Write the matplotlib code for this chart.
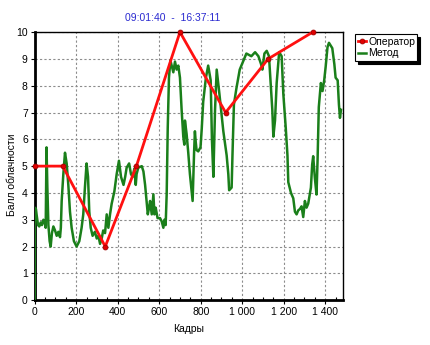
import matplotlib
matplotlib.use('Agg')
import matplotlib.pyplot as plt
from matplotlib.ticker import FuncFormatter, MultipleLocator

plt.rcParams['font.family'] = ['Liberation Sans', 'DejaVu Sans']

# Оператор: ручные оценки балла облачности
op_frames = [0, 135, 340, 490, 700, 920, 1125, 1340]
op_values = [5, 5, 2, 5, 10, 7, 9, 10]

# Метод: автоматическая оценка по кадрам
met_frames = [0, 1, 6, 9, 16, 22, 29, 35, 42, 48, 53, 57, 61, 66, 72, 77, 83, 90, 98,
              106, 114, 122, 126, 130, 138, 146, 154, 162, 170, 178, 189, 202, 215,
              226, 234, 242, 250, 257, 263, 270, 279, 290, 299, 307, 315, 323, 330,
              339, 347, 355, 363, 371, 384, 395, 406, 416, 428, 436, 443, 455, 464,
              472, 480, 487, 491, 499, 516, 524, 532, 540, 545, 551, 556, 564, 572,
              577, 583, 592, 604, 612, 620, 625, 631, 636, 641, 647, 654, 660, 668,
              676, 684, 692, 700, 708, 716, 721, 724, 732, 740, 748, 761, 768, 772,
              776, 780, 788, 799, 805, 812, 825, 836, 848, 854, 861, 869, 877, 890,
              901, 909, 925, 933, 937, 949, 953, 960, 972, 988, 1004, 1020, 1044,
              1062, 1078, 1091, 1097, 1107, 1118, 1129, 1137, 1145, 1150, 1158, 1166,
              1178, 1190, 1198, 1210, 1218, 1222, 1235, 1246, 1254, 1262, 1270, 1278,
              1286, 1294, 1302, 1310, 1318, 1331, 1337, 1342, 1350, 1358, 1363, 1369,
              1379, 1387, 1395, 1402, 1411, 1418, 1434, 1444, 1450, 1460, 1466, 1471,
              1476]
met_values = [0, 3.45, 3.4, 3.2, 2.8, 2.75, 2.9, 2.8, 3.0, 2.9, 2.7, 5.7, 4.2, 2.8, 2.2,
              2.0, 2.5, 2.75, 2.6, 2.4, 2.55, 2.35, 2.7, 3.7, 4.7, 5.5, 5.1, 4.3, 3.3,
              2.7, 2.2, 2.0, 2.2, 2.7, 3.2, 4.2, 5.1, 4.6, 3.3, 2.7, 2.4, 2.55, 2.3,
              2.4, 2.1, 2.3, 2.6, 2.5, 3.2, 2.7, 3.2, 3.6, 4.06, 4.7, 5.2, 4.6, 4.3,
              4.6, 4.94, 5.1, 4.7, 4.6, 4.9, 4.3, 4.7, 4.94, 5.0, 4.8, 4.3, 3.6, 3.2,
              3.45, 3.7, 3.2, 3.95, 3.2, 3.45, 3.06, 3.06, 2.94, 2.7, 3.0, 2.8, 3.95,
              6.4, 8.3, 8.94, 8.75, 8.5, 8.9, 8.6, 8.75, 8.3, 7.1, 6.1, 5.8, 6.7, 6.2,
              5.5, 4.7, 3.7, 5.5, 6.3, 5.9, 5.6, 5.55, 5.7, 6.4, 7.4, 8.3, 8.75, 8.2,
              6.0, 4.6, 7.1, 8.6, 7.7, 6.9, 6.3, 5.4, 4.7, 4.1, 4.2, 5.4, 7.3, 7.9,
              8.6, 8.9, 9.2, 9.1, 9.25, 9.1, 8.8, 8.6, 9.2, 9.3, 9.1, 8.07, 7.1, 6.1,
              6.7, 8.1, 9.25, 9.1, 7.7, 6.4, 5.4, 4.4, 4.0, 3.8, 3.3, 3.2, 3.35, 3.4,
              3.5, 3.1, 3.7, 3.45, 3.6, 4.2, 5.05, 5.37, 4.56, 3.94, 5.2, 7.2, 8.1,
              7.8, 8.2, 8.7, 9.44, 9.6, 9.4, 8.8, 8.3, 8.2, 7.3, 6.8, 7.1]

title_text = '09:01:40  -  16:37:11'

fig = plt.figure(figsize=(4.31, 3.45), dpi=100)
ax = fig.add_axes([0.0805, 0.130, 0.7155, 0.777])

ax.plot(met_frames, met_values, color='#1a7f1a', linewidth=1.8, label='Метод', zorder=3)
ax.plot(op_frames, op_values, color='#ff1010', linewidth=2, marker='o', markersize=3.5,
        markerfacecolor='#e00000', markeredgecolor='#a00000', markeredgewidth=0.6,
        label='Оператор', zorder=4, clip_on=False)

ax.set_xlim(0, 1486)
ax.set_ylim(0, 10)
ax.xaxis.set_major_locator(MultipleLocator(200))
ax.xaxis.set_minor_locator(MultipleLocator(50))
ax.yaxis.set_major_locator(MultipleLocator(1))
ax.xaxis.set_major_formatter(FuncFormatter(lambda v, p: f'{int(v):,}'.replace(',', ' ')))
ax.tick_params(axis='both', which='major', labelsize=7.5, length=3, width=0.8, pad=2)
ax.tick_params(axis='x', which='minor', direction='in', length=2, width=0.8)

ax.grid(True, which='major', color='#8c8c8c', linestyle=(0, (2, 2)), linewidth=0.8)
for side in ('left', 'bottom'):
    ax.spines[side].set_linewidth(2)
for side in ('top', 'right'):
    ax.spines[side].set_linewidth(1)

ax.set_xlabel('Кадры', fontsize=7.5, labelpad=5)
fig.text(12 / 431, 1 - 175 / 345, 'Балл облачности', rotation=90, fontsize=7.5,
         ha='center', va='center')
fig.text(173 / 431, 1 - 18 / 345, title_text, color='#2a2ad0', fontsize=7.5,
         ha='center', va='center')

handles, labels = ax.get_legend_handles_labels()
leg = fig.legend(handles[::-1], labels[::-1], loc='upper left',
                 bbox_to_anchor=(355 / 431, 1 - 34 / 345), fontsize=7.5,
                 handlelength=0.8, handletextpad=0.2, borderpad=0.25, labelspacing=0.15,
                 borderaxespad=0, fancybox=False, edgecolor='black', framealpha=1,
                 shadow={'color': 'black', 'alpha': 1})
leg.get_frame().set_linewidth(0.8)

fig.savefig('out.png', dpi=100)
